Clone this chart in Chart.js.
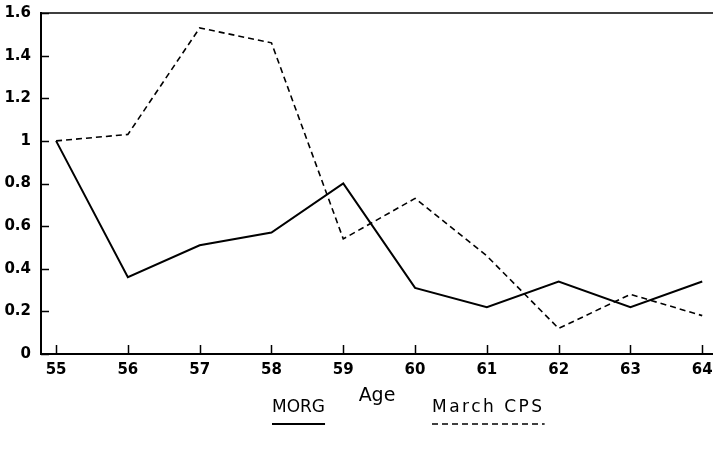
<!DOCTYPE html>
<html>
    <head>
        <meta charset="utf-8">
        <style>
            html, body { margin: 0; padding: 0; background: #fff; }
            #wrap { width: 713px; height: 449px; }
        </style>
    </head>
    <body>
	<div id="wrap">
		<canvas id="myChart" width="713" height="449"></canvas>
	</div>

        <script src="https://cdn.jsdelivr.net/npm/chart.js"></script>

        <script>
		// values
		const ages = [55, 56, 57, 58, 59, 60, 61, 62, 63, 64];
		const morg = [1.0, 0.36, 0.51, 0.57, 0.80, 0.31, 0.22, 0.34, 0.22, 0.34];
		const marchCps = [1.0, 1.03, 1.53, 1.46, 0.54, 0.73, 0.46, 0.12, 0.28, 0.18];
		const yTicks = [0, 0.2, 0.4, 0.6, 0.8, 1, 1.2, 1.4, 1.6];
		const seriesNames = ['MORG', 'March CPS'];

		function toPoints(vals) {
			return ages.map(function (a, i) { return { x: a, y: vals[i] }; });
		}

		// ticks drawn inward, top frame line and underlined legend
		const decorations = {
			id: 'decorations',
			afterDraw: function (chart) {
				const ctx = chart.ctx;
				const area = chart.chartArea;
				const xs = chart.scales.x, ys = chart.scales.y;
				ctx.save();
				ctx.strokeStyle = '#000';
				ctx.lineWidth = 1.5;
				ctx.beginPath();
				ctx.moveTo(area.left, area.top);
				ctx.lineTo(area.right, area.top);
				ys.ticks.forEach(function (t) {
					const py = Math.round(ys.getPixelForValue(t.value)) + 0.5;
					ctx.moveTo(area.left, py);
					ctx.lineTo(area.left + 8, py);
				});
				xs.ticks.forEach(function (t) {
					const px = Math.round(xs.getPixelForValue(t.value)) + 0.5;
					ctx.moveTo(px, area.bottom);
					ctx.lineTo(px, area.bottom - 9);
				});
				ctx.stroke();

				// legend
				ctx.font = '17px "DejaVu Sans"';
				ctx.fillStyle = '#000';
				ctx.textBaseline = 'middle';
				ctx.textAlign = 'left';
				const starts = [272, 432];
				const spacing = ['0px', '2.5px'];
				chart.data.datasets.forEach(function (ds, i) {
					ctx.letterSpacing = spacing[i];
					const w = ctx.measureText(ds.label).width;
					ctx.fillText(ds.label, starts[i], 408);
					ctx.beginPath();
					ctx.lineWidth = ds.borderWidth;
					ctx.setLineDash(ds.borderDash || []);
					ctx.moveTo(starts[i], 424);
					ctx.lineTo(starts[i] + w, 424);
					ctx.stroke();
				});
				ctx.restore();
			}
		};

		function init() {
			const ctx = document.getElementById('myChart');

			const data = {
				datasets: [
					{
						label: seriesNames[0],
						data: toPoints(morg),
						borderColor: '#000',
						borderWidth: 2,
						pointRadius: 0,
						tension: 0
					},
					{
						label: seriesNames[1],
						data: toPoints(marchCps),
						borderColor: '#000',
						borderWidth: 1.6,
						borderDash: [6, 4],
						pointRadius: 0,
						tension: 0
					}
				]
			};

			const tickFont = { family: '"DejaVu Sans"', size: 15, weight: 'bold' };

			new Chart(ctx, {
				type: 'line',
				data: data,
				plugins: [decorations],
				options: {
					responsive: false,
					animation: false,
					layout: { padding: { top: 13, right: 0, left: 0, bottom: 42 } },
					plugins: {
						legend: { display: false },
						tooltip: { enabled: false }
					},
					scales: {
						x: {
							type: 'linear',
							min: 54.79,
							max: 64.15,
							afterBuildTicks: function (scale) {
								scale.ticks = ages.map(function (v) { return { value: v }; });
							},
							afterFit: function (scale) {
								scale.height = 53;
								scale.paddingLeft = 0;
								scale.paddingRight = 0;
							},
							grid: { drawOnChartArea: false, drawTicks: false },
							border: { color: '#000', width: 2 },
							ticks: {
								color: '#000',
								padding: 7,
								maxRotation: 0,
								font: tickFont
							},
							title: {
								display: true,
								text: 'Age',
								color: '#000',
								padding: { top: 0, bottom: 0 },
								font: { family: '"DejaVu Sans"', size: 19 }
							}
						},
						y: {
							type: 'linear',
							min: 0,
							max: 1.6,
							afterBuildTicks: function (scale) {
								scale.ticks = yTicks.map(function (v) { return { value: v }; });
							},
							afterFit: function (scale) {
								scale.width = 41;
								scale.paddingTop = 0;
								scale.paddingBottom = 0;
							},
							grid: { drawOnChartArea: false, drawTicks: false },
							border: { color: '#000', width: 2 },
							ticks: {
								color: '#000',
								padding: 10,
								font: tickFont,
								callback: function (v) { return String(Number(v.toFixed(1))); }
							}
						}
					}
				}
			});
		}

		document.addEventListener("DOMContentLoaded", function () {
			init();
		});
        </script>
    </body>
</html>
